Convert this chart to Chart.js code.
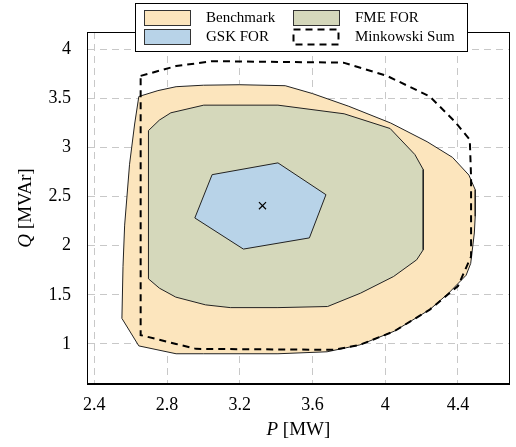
<!DOCTYPE html>
<html lang="en">
<head>
    <meta charset="UTF-8">
    <title>Feasible Operating Region</title>
    <script src="https://cdn.jsdelivr.net/npm/chart.js"></script>
    <style>
        body { margin: 0; background: #fff; }
        #wrap { width: 516px; height: 447px; }
    </style>
</head>
<body>
<div id="wrap"><canvas id="forChart" width="516" height="447"></canvas></div>

<script>
    // polygon vertices (P in MW, Q in MVAr)
    const benchmarkP = [2.645, 2.75, 2.85, 3.0, 3.2, 3.45, 3.6, 3.8, 4.03, 4.23, 4.37, 4.46, 4.495, 4.495, 4.49, 4.47, 4.445, 4.35, 4.245, 4.05, 3.86, 3.68, 3.41, 3.0, 2.85, 2.645, 2.552, 2.558, 2.567, 2.594, 2.622, 2.645];
    const benchmarkQ = [3.52, 3.58, 3.62, 3.635, 3.64, 3.63, 3.55, 3.42, 3.25, 3.06, 2.9, 2.72, 2.57, 2.3, 2.13, 1.82, 1.70, 1.52, 1.35, 1.13, 0.99, 0.92, 0.90, 0.90, 0.90, 0.98, 1.26, 1.79, 2.21, 2.83, 3.24, 3.52];

    const fmeP = [2.698, 2.758, 2.821, 3.002, 3.41, 3.774, 4.027, 4.163, 4.209, 4.209, 4.173, 4.046, 3.864, 3.683, 3.41, 3.148, 3.012, 2.848, 2.758, 2.698, 2.698];
    const fmeQ = [3.173, 3.28, 3.354, 3.432, 3.432, 3.344, 3.194, 2.929, 2.776, 1.959, 1.857, 1.687, 1.517, 1.381, 1.37, 1.37, 1.398, 1.477, 1.568, 1.663, 3.173];

    const gskP = [3.048, 3.41, 3.674, 3.583, 3.22, 2.953, 3.048];
    const gskQ = [2.724, 2.844, 2.52, 2.08, 1.966, 2.283, 2.724];

    const minkP = [2.655, 2.85, 3.05, 3.77, 4.01, 4.245, 4.38, 4.465, 4.472, 4.472, 4.40, 4.245, 4.05, 3.86, 3.72, 2.96, 2.85, 2.655, 2.655];
    const minkQ = [3.73, 3.83, 3.88, 3.865, 3.73, 3.52, 3.27, 3.08, 2.7, 1.89, 1.59, 1.35, 1.13, 0.99, 0.94, 0.95, 1.0, 1.09, 3.73];

    const centerP = [3.325];
    const centerQ = [2.408];

    const xTicks = [2.4, 2.8, 3.2, 3.6, 4, 4.4];
    const yTicks = [1, 1.5, 2, 2.5, 3, 3.5, 4];

    const toPoints = (xs, ys) => xs.map((x, i) => ({ x: x, y: ys[i] }));

    const serif = '"Liberation Serif", "Times New Roman", serif';

    // legend drawn by hand so it can sit across the top of the frame
    const legendBox = {
        id: 'legendBox',
        afterDraw(chart) {
            const ctx = chart.ctx;
            const ds = chart.data.datasets;
            ctx.save();
            ctx.fillStyle = '#fff';
            ctx.strokeStyle = '#000';
            ctx.lineWidth = 1;
            ctx.fillRect(135.5, 3.5, 332, 48);
            ctx.strokeRect(135.5, 3.5, 332, 48);

            const items = [
                { d: ds[0], x: 144, y: 10 },
                { d: ds[2], x: 144, y: 29 },
                { d: ds[1], x: 293, y: 10 },
                { d: ds[3], x: 293, y: 29 }
            ];
            ctx.font = '15px ' + serif;
            ctx.textBaseline = 'middle';
            items.forEach(it => {
                ctx.save();
                if (it.d.borderDash) {
                    ctx.setLineDash([7, 5]);
                    ctx.lineWidth = 2;
                    ctx.strokeStyle = '#000';
                    ctx.strokeRect(it.x + 0.5, it.y + 0.5, 45, 15);
                } else {
                    ctx.fillStyle = it.d.backgroundColor;
                    ctx.fillRect(it.x + 0.5, it.y + 0.5, 46, 15);
                    ctx.strokeStyle = '#333';
                    ctx.lineWidth = 1;
                    ctx.strokeRect(it.x + 0.5, it.y + 0.5, 46, 15);
                }
                ctx.restore();
                ctx.fillStyle = '#000';
                ctx.fillText(it.d.label, it.x + 62, it.y + 8);
            });
            ctx.restore();
        }
    };

    // frame on all four sides plus the axis titles with italic symbols
    const frameAndTitles = {
        id: 'frameAndTitles',
        afterDatasetsDraw(chart) {
            const { ctx, chartArea: a } = chart;
            ctx.save();
            ctx.strokeStyle = '#000';
            ctx.lineWidth = 1;
            ctx.strokeRect(Math.round(a.left) + 0.5, Math.round(a.top) + 0.5,
                Math.round(a.right - a.left) - 1, Math.round(a.bottom - a.top) - 1);
            ctx.restore();
        },
        afterDraw(chart) {
            const { ctx, chartArea: a } = chart;
            const drawTitle = (sym, rest, x, y, rot) => {
                ctx.save();
                ctx.translate(x, y);
                if (rot) ctx.rotate(-Math.PI / 2);
                ctx.fillStyle = '#000';
                ctx.textBaseline = 'middle';
                ctx.font = 'italic 19px ' + serif;
                const w1 = ctx.measureText(sym).width;
                ctx.font = '19px ' + serif;
                const w2 = ctx.measureText(rest).width;
                let sx = -(w1 + w2) / 2;
                ctx.font = 'italic 19px ' + serif;
                ctx.fillText(sym, sx, 0);
                ctx.font = '19px ' + serif;
                ctx.fillText(rest, sx + w1, 0);
                ctx.restore();
            };
            drawTitle('P', ' [MW]', (a.left + a.right) / 2, 430, false);
            drawTitle('Q', ' [MVAr]', 26, (a.top + a.bottom) / 2, true);
        }
    };

    const ctx = document.getElementById('forChart').getContext('2d');
    new Chart(ctx, {
        type: 'scatter',
        data: {
            datasets: [
                {
                    label: 'Benchmark',
                    data: toPoints(benchmarkP, benchmarkQ),
                    showLine: true,
                    fill: 'shape',
                    backgroundColor: '#fce5bd',
                    borderColor: '#222',
                    borderWidth: 1,
                    pointRadius: 0,
                    tension: 0,
                    order: 4
                },
                {
                    label: 'FME FOR',
                    data: toPoints(fmeP, fmeQ),
                    showLine: true,
                    fill: 'shape',
                    backgroundColor: '#d5d8bb',
                    borderColor: '#222',
                    borderWidth: 1,
                    pointRadius: 0,
                    tension: 0,
                    order: 3
                },
                {
                    label: 'GSK FOR',
                    data: toPoints(gskP, gskQ),
                    showLine: true,
                    fill: 'shape',
                    backgroundColor: '#b8d3e8',
                    borderColor: '#222',
                    borderWidth: 1,
                    pointRadius: 0,
                    tension: 0,
                    order: 2
                },
                {
                    label: 'Minkowski Sum',
                    data: toPoints(minkP, minkQ),
                    showLine: true,
                    fill: false,
                    borderColor: '#000',
                    borderWidth: 2,
                    borderDash: [7, 5],
                    pointRadius: 0,
                    tension: 0,
                    order: 1
                },
                {
                    label: 'center',
                    data: toPoints(centerP, centerQ),
                    showLine: false,
                    pointStyle: 'crossRot',
                    pointRadius: 5,
                    borderColor: '#000',
                    borderWidth: 1.2,
                    order: 0
                }
            ]
        },
        options: {
            responsive: false,
            animation: false,
            layout: { padding: { top: 32, right: 2, left: 0, bottom: 0 } },
            plugins: {
                legend: { display: false },
                tooltip: { enabled: false }
            },
            scales: {
                x: {
                    type: 'linear',
                    min: 2.36,
                    max: 4.685,
                    afterBuildTicks: s => { s.ticks = xTicks.map(v => ({ value: v })); },
                    afterFit: s => { s.height = 63; },
                    ticks: {
                        callback: v => String(v),
                        font: { family: serif, size: 18 },
                        color: '#000',
                        padding: 10,
                        maxRotation: 0
                    },
                    grid: { color: '#c8c8c8', lineWidth: 1, drawTicks: false },
                    border: { display: true, color: '#000', width: 1, dash: [7, 5] }
                },
                y: {
                    type: 'linear',
                    min: 0.592,
                    max: 4.177,
                    afterBuildTicks: s => { s.ticks = yTicks.map(v => ({ value: v })); },
                    afterFit: s => { s.width = 87; },
                    ticks: {
                        callback: v => String(v),
                        font: { family: serif, size: 18 },
                        color: '#000',
                        padding: 16
                    },
                    grid: { color: '#c8c8c8', lineWidth: 1, drawTicks: false },
                    border: { display: true, color: '#000', width: 1, dash: [7, 5] }
                }
            }
        },
        plugins: [frameAndTitles, legendBox]
    });
</script>
</body>
</html>
